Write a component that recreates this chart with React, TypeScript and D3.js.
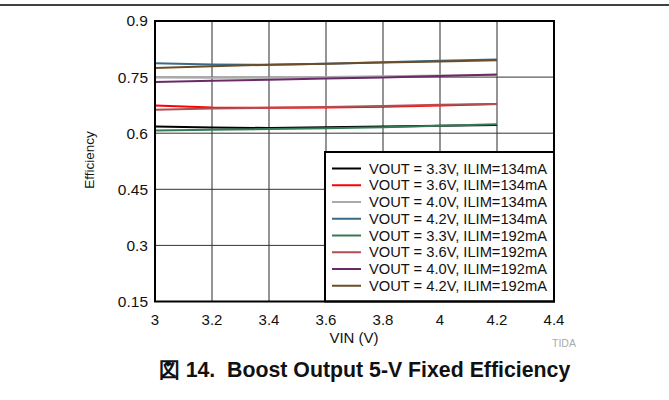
import React from "react";
import * as d3 from "d3";

const vin = [3.0, 3.2, 3.4, 3.6, 3.8, 4.0, 4.2];
const seriesNames = [
  "VOUT = 3.3V, ILIM=134mA",
  "VOUT = 3.6V, ILIM=134mA",
  "VOUT = 4.0V, ILIM=134mA",
  "VOUT = 4.2V, ILIM=134mA",
  "VOUT = 3.3V, ILIM=192mA",
  "VOUT = 3.6V, ILIM=192mA",
  "VOUT = 4.0V, ILIM=192mA",
  "VOUT = 4.2V, ILIM=192mA",
];
const eff33_134 = [0.618, 0.615, 0.614, 0.616, 0.618, 0.62, 0.622];
const eff36_134 = [0.674, 0.669, 0.668, 0.669, 0.671, 0.674, 0.678];
const eff40_134 = [0.749, 0.748, 0.748, 0.75, 0.752, 0.754, 0.755];
const eff42_134 = [0.787, 0.784, 0.783, 0.786, 0.79, 0.794, 0.797];
const eff33_192 = [0.607, 0.609, 0.611, 0.613, 0.616, 0.62, 0.624];
const eff36_192 = [0.663, 0.666, 0.668, 0.67, 0.673, 0.676, 0.678];
const eff40_192 = [0.737, 0.74, 0.743, 0.746, 0.749, 0.753, 0.757];
const eff42_192 = [0.774, 0.779, 0.783, 0.786, 0.789, 0.792, 0.795];
const seriesValues = [eff33_134, eff36_134, eff40_134, eff42_134, eff33_192, eff36_192, eff40_192, eff42_192];
const colors = ["#000000", "#ff0000", "#aaaaaa", "#3a6a88", "#357a55", "#b04e50", "#6a2a6a", "#6b4e28"];
const xTicks = [3, 3.2, 3.4, 3.6, 3.8, 4, 4.2, 4.4];
const yTicks = [0.15, 0.3, 0.45, 0.6, 0.75, 0.9];

const FONT = "'Liberation Sans', Arial, Helvetica, sans-serif";

export default function App() {
  const left = 155, right = 554, top = 21, bottom = 301.5;
  const x = d3.scaleLinear().domain([3, 4.4]).range([left, right]);
  const y = d3.scaleLinear().domain([0.15, 0.9]).range([bottom, top]);
  const line = d3.line<number>().x((_, i) => x(vin[i])).y((d) => y(d));

  const lgLeft = 325, lgTop = 152;
  const rowY0 = 168.5, rowStep = 16.75;

  return (
    <div style={{ position: "absolute", left: 0, top: 0 }}>
      <svg width={669} height={400} style={{ display: "block", fontFamily: FONT }}>
        <rect x={0} y={0} width={669} height={400} fill="#fff" />
        <line x1={0} x2={669} y1={5} y2={5} stroke="#000" strokeWidth={1.3} />
        {/* grid */}
        {xTicks.slice(1, -1).map((t) => (
          <line key={"gx" + t} x1={x(t)} x2={x(t)} y1={top} y2={bottom} stroke="#7a7a7a" strokeWidth={1.6} />
        ))}
        {yTicks.slice(1, -1).map((t) => (
          <line key={"gy" + t} x1={left} x2={right} y1={y(t)} y2={y(t)} stroke="#333" strokeWidth={1} />
        ))}
        {/* series */}
        {seriesValues.map((vals, i) => (
          <path key={"s" + i} d={line(vals) || ""} fill="none" stroke={colors[i]} strokeWidth={2} />
        ))}
        {/* legend */}
        <rect x={lgLeft} y={lgTop} width={right - lgLeft} height={bottom - lgTop} fill="#fff" stroke="#000" strokeWidth={2} />
        {seriesNames.map((n, i) => (
          <g key={"lg" + i}>
            <line x1={332} x2={361} y1={rowY0 + i * rowStep} y2={rowY0 + i * rowStep} stroke={colors[i]} strokeWidth={2} />
            <text x={369} y={rowY0 + i * rowStep} dy="0.35em" fontSize={14.7} fill="#111">{n}</text>
          </g>
        ))}
        {/* frame */}
        <rect x={left} y={top} width={right - left} height={bottom - top} fill="none" stroke="#000" strokeWidth={2} />
        {/* axes labels */}
        {xTicks.map((t) => (
          <text key={"xt" + t} x={x(t)} y={320} dy="0.35em" textAnchor="middle" fontSize={15} fill="#111">{d3.format("~g")(t)}</text>
        ))}
        {yTicks.map((t) => (
          <text key={"yt" + t} x={148} y={y(t)} dy="0.35em" textAnchor="end" fontSize={15.5} fill="#111">{d3.format("~g")(t)}</text>
        ))}
        <text x={354} y={338} dy="0.35em" textAnchor="middle" fontSize={15} fill="#111">VIN (V)</text>
        <text transform={`translate(89,160) rotate(-90)`} textAnchor="middle" dy="0.35em" fontSize={13.5} fill="#111">Efficiency</text>
        <text x={564} y={343} dy="0.35em" textAnchor="middle" fontSize={10.5} fill="#aaa">TIDA</text>
        <text x={364.5} y={370} dy="0.35em" textAnchor="middle" fontSize={21.3} fontWeight="bold" fill="#111" style={{ whiteSpace: "pre" }}>{"図 14.  Boost Output 5-V Fixed Efficiency"}</text>
      </svg>
    </div>
  );
}
